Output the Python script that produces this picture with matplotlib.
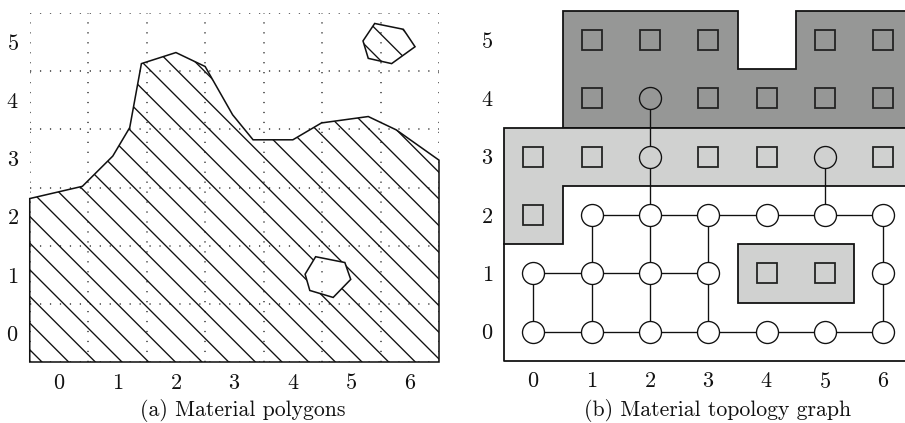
import numpy as np
import matplotlib.pyplot as plt
from matplotlib.path import Path
from matplotlib.patches import PathPatch, Polygon

plt.rcParams['font.family'] = ['cmr10', 'DejaVu Serif']
plt.rcParams['axes.formatter.use_mathtext'] = True
plt.rcParams['hatch.linewidth'] = 0.6

# (a) material polygons
outline_x = [-0.5, 0.40, 0.92, 1.21, 1.41, 2.00, 2.50, 2.97, 3.32, 4.00, 4.49, 5.29, 5.77, 6.5, 6.5, -0.5]
outline_y = [2.31, 2.52, 3.04, 3.53, 4.63, 4.82, 4.58, 3.75, 3.32, 3.32, 3.61, 3.72, 3.49, 2.97, -0.5, -0.5]
hole_x = [4.21, 4.39, 4.89, 4.99, 4.69, 4.29]
hole_y = [1.01, 1.31, 1.21, 0.92, 0.61, 0.73]
island_x = [5.20, 5.40, 5.89, 6.09, 5.69, 5.29]
island_y = [5.02, 5.32, 5.22, 4.92, 4.63, 4.72]

# (b) material topology graph
dark_x = [0.5, 3.5, 3.5, 4.5, 4.5, 6.5, 6.5, 0.5]
dark_y = [5.5, 5.5, 4.5, 4.5, 5.5, 5.5, 3.5, 3.5]
light_x = [-0.5, 6.5, 6.5, 0.5, 0.5, -0.5]
light_y = [3.5, 3.5, 2.5, 2.5, 1.5, 1.5]
inner_x = [3.5, 5.5, 5.5, 3.5]
inner_y = [1.5, 1.5, 0.5, 0.5]
# node type per cell, rows from y=5 down to y=0: s = material cell, c = graph node
node_rows = ['.sss.ss',
             '.scssss',
             'sscsscs',
             'scccccc',
             'ccccssc',
             'ccccccc']

xticks = [0, 1, 2, 3, 4, 5, 6]
yticks = [0, 1, 2, 3, 4, 5]

DARK, LIGHT = '#969796', '#d0d1d0'

W, H, DPI = 905, 423, 160
fig = plt.figure(figsize=(W / DPI, H / DPI), dpi=DPI)

ax1 = fig.add_axes([29.75 / W, 1 - 362 / H, 409.25 / W, 349 / H])
ax2 = fig.add_axes([504.3 / W, 1 - 360.85 / H, 408.2 / W, 349.95 / H])

for ax in (ax1, ax2):
    ax.set_xlim(-0.5, 6.5)
    ax.set_ylim(-0.5, 5.5)
    ax.set_xticks(xticks)
    ax.set_yticks(yticks)
    ax.tick_params(length=0, pad=5, labelsize=10, colors='#111111')
    for s in ax.spines.values():
        s.set_visible(False)

# dotted cell grid
dot = dict(color='#555555', lw=0.8, linestyle=(0, (0.7, 4.9)), zorder=1)
for g in np.arange(-0.5, 6.6, 1.0):
    ax1.plot([g, g], [-0.5, 5.5], **dot)
for g in np.arange(-0.5, 5.6, 1.0):
    ax1.plot([-0.5, 6.5], [g, g], **dot)

# hatched material with the hole cut out
outer = list(zip(outline_x, outline_y))
inner = list(zip(hole_x, hole_y))[::-1]
verts = outer + [outer[0]] + inner + [inner[0]]
codes = ([Path.MOVETO] + [Path.LINETO] * (len(outer) - 1) + [Path.CLOSEPOLY]
         + [Path.MOVETO] + [Path.LINETO] * (len(inner) - 1) + [Path.CLOSEPOLY])
ax1.add_patch(PathPatch(Path(verts, codes), facecolor='none', edgecolor='#111111',
                        hatch='\\\\', lw=0.7, zorder=2, clip_on=False))
ax1.add_patch(Polygon(np.column_stack([island_x, island_y]), closed=True, facecolor='none',
                      edgecolor='#111111', hatch='\\\\', lw=0.7, zorder=2))

# material regions
ax2.plot([-0.5, -0.5, 6.5, 6.5], [1.5, -0.5, -0.5, 2.5], color='#111111', lw=0.8, zorder=1, clip_on=False)
for px, py, fc in [(dark_x, dark_y, DARK), (light_x, light_y, LIGHT), (inner_x, inner_y, LIGHT)]:
    ax2.add_patch(Polygon(np.column_stack([px, py]), closed=True, facecolor=fc,
                          edgecolor='#111111', lw=0.8, zorder=1, clip_on=False))

nodes = {}
for r, row in enumerate(node_rows):
    y = len(node_rows) - 1 - r
    for x, t in enumerate(row):
        if t != '.':
            nodes[(x, y)] = t


def cell_colour(x, y):
    if y >= 4:
        return DARK
    if y == 3 or (y == 2 and x == 0) or (y == 1 and x in (4, 5)):
        return LIGHT
    return 'white'


# edges between neighbouring graph nodes
for (x, y), t in nodes.items():
    if t != 'c':
        continue
    for dx, dy in [(1, 0), (0, 1)]:
        if nodes.get((x + dx, y + dy)) == 'c':
            ax2.plot([x, x + dx], [y, y + dy], color='#111111', lw=0.6, zorder=2)

for (x, y), t in nodes.items():
    if t == 's':
        ax2.plot(x, y, 's', ms=9, mfc='none', mec='#222222', mew=0.8, zorder=3)
    else:
        ax2.plot(x, y, 'o', ms=9.9, mfc=cell_colour(x, y), mec='#111111', mew=0.6, zorder=3)

fig.text(242.5 / W, 1 - 411 / H, '(a) Material polygons', ha='center', va='center', fontsize=9.8, color='#111111')
fig.text(718 / W, 1 - 410 / H, '(b) Material topology graph', ha='center', va='center', fontsize=9.8, color='#111111')

fig.savefig('out.png', dpi=DPI, facecolor='white')
